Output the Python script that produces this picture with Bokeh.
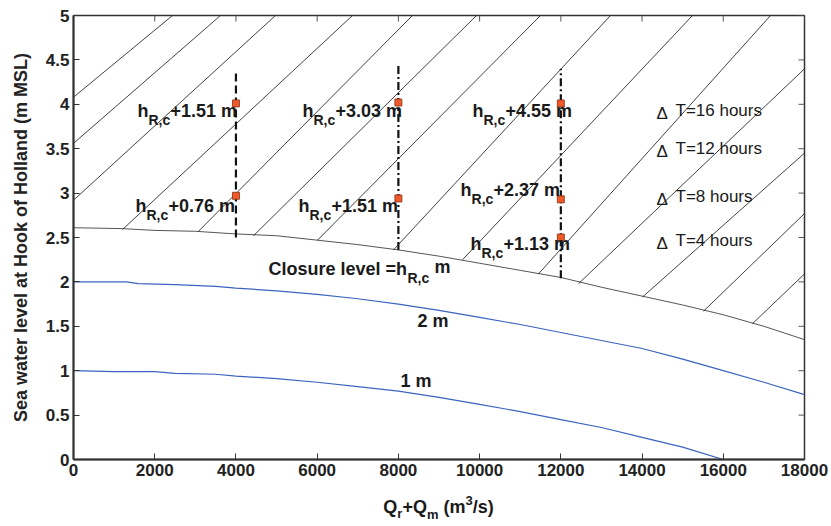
import math
from bokeh.plotting import figure
from bokeh.models import Range1d, FixedTicker, Div
from bokeh.layouts import column
from bokeh.core.properties import value
from bokeh.embed import file_html
from bokeh.resources import INLINE

# ---- data ----
q_closure = [0, 1200, 2000, 3000, 4000, 5000, 6000, 7000, 8000, 9000, 10000,
             11000, 12000, 13000, 14000, 15000, 16000, 17000, 18000]
h_closure = [2.61, 2.60, 2.58, 2.57, 2.54, 2.52, 2.47, 2.42, 2.36, 2.29, 2.21,
             2.13, 2.05, 1.94, 1.84, 1.74, 1.63, 1.50, 1.35]

q_2m = [0, 1300, 1600, 2500, 3500, 4000, 5000, 6000, 7000, 8000, 9000, 10000,
        11000, 12000, 13000, 14000, 15000, 16000, 17000, 18000]
h_2m = [2.00, 2.00, 1.98, 1.97, 1.95, 1.93, 1.90, 1.86, 1.81, 1.75, 1.68, 1.60,
        1.52, 1.43, 1.34, 1.25, 1.13, 1.00, 0.87, 0.73]

q_1m = [0, 1000, 2000, 2500, 3500, 4000, 5000, 6000, 7000, 8000, 9000, 10000,
        11000, 12000, 13000, 14000, 15000, 16000]
h_1m = [1.00, 0.99, 0.99, 0.97, 0.96, 0.94, 0.91, 0.87, 0.82, 0.77, 0.70, 0.62,
        0.54, 0.45, 0.36, 0.25, 0.14, 0.00]

# iso-lines of closure duration (start / end points)
iso_q0 = [0, 0, 0, 1207, 3078, 4432, 6009, 7880, 9580, 11450, 12435, 14011, 15513, 16720]
iso_h0 = [4.08, 3.56, 2.92, 2.59, 2.57, 2.52, 2.47, 2.36, 2.25, 2.09, 1.98, 1.83, 1.67, 1.53]
iso_q1 = [2438, 3620, 4974, 6870, 8347, 9923, 11499, 13223, 15242, 17163, 18000, 18000, 18000, 18000]
iso_h1 = [5.0, 5.0, 5.0, 5.0, 5.0, 5.0, 5.0, 5.0, 5.0, 5.0, 4.40, 3.45, 2.77, 2.09]

# vertical discharge lines
vq = [4000, 8000, 12000]
v_low = [2.50, 2.36, 2.04]
v_high = [4.38, 4.44, 4.40]

# red points
pt_q = [4000, 4000, 8000, 8000, 12000, 12000, 12000]
pt_h = [4.01, 2.97, 4.02, 2.94, 4.01, 2.93, 2.50]

# point labels
lab_q = [1576, 1527, 5639, 5540, 9825, 9530, 9776]
lab_h = [3.92, 2.86, 3.93, 2.85, 3.92, 3.03, 2.43]
lab_txt = ["+1.51 m", "+0.76 m", "+3.03 m", "+1.51 m", "+4.55 m", "+2.37 m", "+1.13 m"]

dt_txt = ["T=16 hours", "T=12 hours", "T=8 hours", "T=4 hours"]
dt_q = [14824, 14824, 14824, 14824]
dt_h = [3.93, 3.50, 2.96, 2.47]

x_ticks = [0, 2000, 4000, 6000, 8000, 10000, 12000, 14000, 16000, 18000]
y_ticks = [0, 0.5, 1, 1.5, 2, 2.5, 3, 3.5, 4, 4.5, 5]
y_tick_labels = ["0", "0.5", "1", "1.5", "2", "2.5", "3", "3.5", "4", "4.5", "5"]

FONT = "Liberation Sans"
X0, X1, Y0, Y1 = 0, 18000, 0, 5

p = figure(width=831, height=488, x_range=Range1d(X0, X1), y_range=Range1d(Y0, Y1),
           output_backend="svg", toolbar_location=None,
           min_border_left=73, min_border_right=27, min_border_top=15, min_border_bottom=29)
p.grid.visible = False
p.outline_line_color = "#333333"
p.outline_line_width = 1.5

for ax in (p.xaxis[0], p.yaxis[0]):
    ax.major_tick_in = 6
    ax.major_tick_out = 0
    ax.minor_tick_line_color = None
    ax.axis_line_color = "#333333"
    ax.axis_line_width = 2
    ax.major_tick_line_color = "#333333"
    ax.major_label_text_font = FONT
    ax.major_label_text_font_style = "bold"
    ax.major_label_text_font_size = "17px"
    ax.major_label_text_color = "#222222"
    ax.major_label_standoff = 4

p.xaxis.ticker = FixedTicker(ticks=x_ticks)
p.yaxis.ticker = FixedTicker(ticks=y_ticks)
p.yaxis.major_label_overrides = {t: s for t, s in zip(y_ticks, y_tick_labels)}
p.yaxis.axis_label = "Sea water level at Hook of Holland (m MSL)"
p.yaxis.axis_label_text_font = FONT
p.yaxis.axis_label_text_font_style = "bold"
p.yaxis.axis_label_text_font_size = "18px"
p.yaxis.axis_label_text_color = "#222222"
p.yaxis.axis_label_standoff = 12

# mirrored ticks on top and right edges (half of each dash is clipped by the frame)
p.scatter(x_ticks, [Y1] * len(x_ticks), marker="dash", angle=math.pi / 2, size=12,
          line_color="#555555", line_width=1)
p.scatter([X1] * len(y_ticks), y_ticks, marker="dash", size=12,
          line_color="#555555", line_width=1)

# curves
p.line(q_1m, h_1m, line_color="#3a64c0", line_width=1.2)
p.line(q_2m, h_2m, line_color="#3a64c0", line_width=1.2)
p.line(q_closure, h_closure, line_color="#555555", line_width=1.0)
p.segment(iso_q0, iso_h0, iso_q1, iso_h1, line_color="#111111", line_width=0.8)

# vertical lines
p.segment(vq[:1], v_low[:1], vq[:1], v_high[:1], line_color="#111111", line_width=2.2,
          line_dash="8 4")
p.segment(vq[1:], v_low[1:], vq[1:], v_high[1:], line_color="#111111", line_width=2.2,
          line_dash="8 3 2 3")

p.scatter(pt_q, pt_h, marker="square", size=7, fill_color="#ee5a2a", line_color="#8a2b10",
          line_width=0.8)

# point labels: h, subscript R,c, value
bold = dict(text_font=value(FONT), text_font_style="bold", text_color="#1a1a1a",
            text_baseline="alphabetic", text_align="left")
p.text(lab_q, lab_h, text=["h"] * len(lab_q), text_font_size="18px", **bold)
p.text(lab_q, lab_h, text=["R,c"] * len(lab_q), text_font_size="14px",
       x_offset=11, y_offset=9, **bold)
p.text(lab_q, lab_h, text=lab_txt, text_font_size="18px", x_offset=33, **bold)

# closure label and contour labels
cl_q, cl_h = [4802], [2.15]
p.text(cl_q, cl_h, text=["Closure level =h"], text_font_size="18px", **bold)
p.text(cl_q, cl_h, text=["R,c"], text_font_size="14px", x_offset=139, y_offset=9, **bold)
p.text(cl_q, cl_h, text=["m"], text_font_size="18px", x_offset=166, y_offset=-2, **bold)
p.text([8471, 8052], [1.555, 0.88], text=["2 m", "1 m"], text_font_size="18px", **bold)

reg = dict(text_font=value(FONT), text_color="#1a1a1a", text_baseline="alphabetic",
           text_align="left")
p.text(dt_q, dt_h, text=dt_txt, text_font_size="17px", **reg)
p.text(dt_q, dt_h, text=["\u0394"] * len(dt_q), text_font_size="17px", x_offset=-19,
       y_offset=3, **reg)

# x axis label with sub/superscripts
xlabel = ('Q<span style="font-size:13px;vertical-align:-5px">r</span>+Q'
          '<span style="font-size:13px;vertical-align:-6px">m</span> (m'
          '<span style="font-size:13px;vertical-align:8px">3</span>/s)')
div = Div(text=xlabel, width=731, height=38, margin=(0, 27, 0, 73),
          styles={"font-family": "'Liberation Sans', Arial, sans-serif",
                  "font-weight": "bold", "font-size": "18px", "color": "#1a1a1a",
                  "text-align": "center", "line-height": "18px", "padding-top": "4px",
                  "box-sizing": "border-box", "overflow": "visible"})

open("out.html", "w").write(file_html(column(p, div, spacing=0), INLINE))
